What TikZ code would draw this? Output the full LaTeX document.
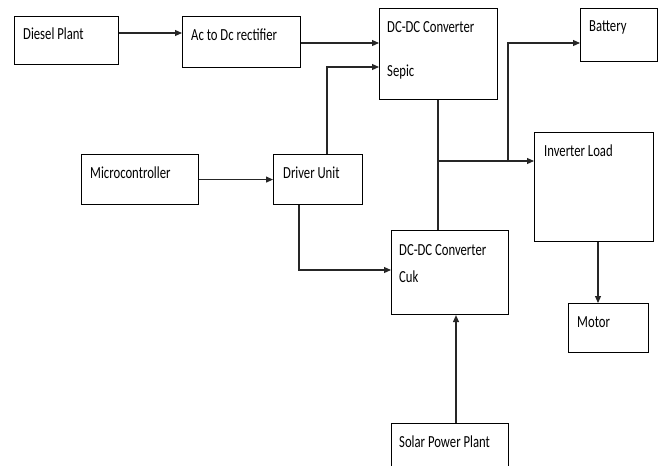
\documentclass[tikz,border=0pt]{standalone}
\usepackage{fontspec}
\usepackage{graphicx}
\setmainfont{Carlito}
\usetikzlibrary{arrows.meta}
\begin{document}
\begin{tikzpicture}[x=1pt,y=-1pt,
  blk/.style={draw=black,line width=1.1pt,rectangle,anchor=north west,inner sep=0pt},
  lbl/.style={anchor=base west,inner sep=0pt,font=\fontsize{12.7}{15}\selectfont},
  wire/.style={draw=black!85,line width=1.1pt},
  arr/.style={wire,-{Triangle[length=7pt,width=6pt]}}]
\useasboundingbox (0,0) rectangle (659,466);
\newcommand{\tx}[1]{\scalebox{1}[1.33]{#1}}
% boxes
\node[blk,minimum width=104pt,minimum height=48pt] (diesel) at (14,16) {};
\node[blk,minimum width=118pt,minimum height=51pt] (ac) at (182,16) {};
\node[blk,minimum width=118pt,minimum height=91pt] (sepic) at (379,8) {};
\node[blk,minimum width=77pt,minimum height=53pt] (battery) at (580,8) {};
\node[blk,minimum width=117pt,minimum height=50pt] (micro) at (81,154) {};
\node[blk,minimum width=89pt,minimum height=50pt] (driver) at (273,154) {};
\node[blk,minimum width=119pt,minimum height=109pt] (inverter) at (534,132) {};
\node[blk,minimum width=117pt,minimum height=84pt] (cuk) at (391,230) {};
\node[blk,minimum width=80pt,minimum height=49pt] (motor) at (568,303) {};
\node[blk,minimum width=117pt,minimum height=60pt] (solar) at (391,423) {};
% labels
\node[lbl] (dieselT) at (23,39) {\tx{Diesel Plant}};
\node[lbl] (acT) at (191,40) {\tx{Ac to Dc rectifier}};
\node[lbl] (sepicT1) at (387,32) {\tx{DC-DC Converter}};
\node[lbl] (sepicT2) at (387,76) {\tx{Sepic}};
\node[lbl] (batteryT) at (589,31) {\tx{Battery}};
\node[lbl] (microT) at (90,178) {\tx{Microcontroller}};
\node[lbl] (driverT) at (283,178) {\tx{Driver Unit}};
\node[lbl] (inverterT) at (544,156) {\tx{Inverter Load}};
\node[lbl] (cukT1) at (399,255) {\tx{DC-DC Converter}};
\node[lbl] (cukT2) at (399,282) {\tx{Cuk}};
\node[lbl] (motorT) at (577,327) {\tx{Motor}};
\node[lbl] (solarT) at (399,447) {\tx{Solar Power Plant}};
% helper coordinates
\coordinate (y33) at (0,33);
\coordinate (y43) at (0,43);
\coordinate (j1) at (327,67);
\coordinate (j2) at (299,270);
\coordinate (bus) at (438,161);
\coordinate (bj) at (508,162);
\coordinate (bt) at (508,43);
\coordinate (xm) at (598,0);
\coordinate (xs) at (456,0);
% connectors
\draw[arr] (diesel.east |- y33) -- (ac.west |- y33);
\draw[arr] (ac.east |- y43) -- (sepic.west |- y43);
\draw[arr] (driver.north -| j1) -- (j1) -- (sepic.west |- j1);
\draw[arr] (micro.east) -- (driver.west);
\draw[arr] (driver.south -| j2) -- (j2) -- (cuk.west |- j2);
\draw[wire] (sepic.south -| bus) -- (cuk.north -| bus);
\draw[arr] (bus) -- (inverter.west |- bus);
\draw[arr] (bj) -- (bt) -- (battery.west |- bt);
\draw[arr] (inverter.south -| xm) -- (motor.north -| xm);
\draw[arr] (solar.north -| xs) -- (cuk.south -| xs);
\end{tikzpicture}
\end{document}
